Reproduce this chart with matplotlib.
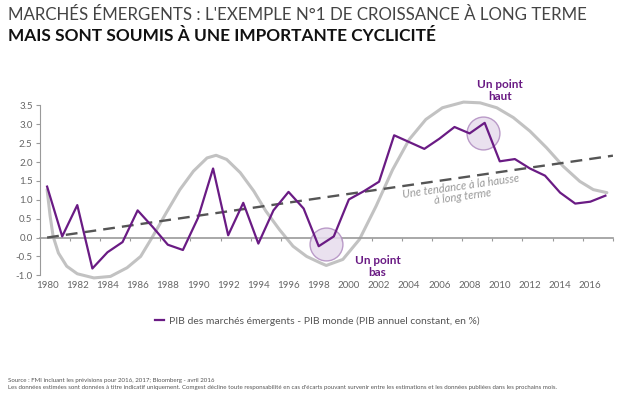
import matplotlib.pyplot as plt
import numpy as np

# PIB des marchés émergents - PIB monde, en %
years = list(range(1980, 2018))
spread = [1.35, 0.03, 0.86, -0.82, -0.39, -0.12, 0.72, 0.28, -0.19, -0.33,
          0.52, 1.83, 0.06, 0.92, -0.16, 0.72, 1.21, 0.77, -0.23, 0.03,
          1.01, 1.23, 1.48, 2.71, 2.53, 2.35, 2.62, 2.93, 2.76, 3.04,
          2.02, 2.08, 1.83, 1.64, 1.19, 0.90, 0.95, 1.11]

# cycle (gray curve)
cycle_x = [1980.0, 1980.2, 1980.4, 1980.75, 1981.3, 1982.0, 1983.1, 1984.2, 1985.3, 1986.2,
           1987.0, 1987.9, 1988.8, 1989.7, 1990.6, 1991.2, 1991.9, 1992.8, 1993.7, 1994.5,
           1995.4, 1996.3, 1997.2, 1998.1, 1998.5, 1999.6, 2000.7, 2001.8, 2002.9, 2004.0,
           2005.1, 2006.2, 2007.6, 2008.7, 2009.8, 2010.9, 2012.0, 2013.1, 2014.2, 2015.3,
           2016.2, 2017.1]
cycle_y = [1.27, 0.57, 0.03, -0.41, -0.76, -0.96, -1.07, -1.03, -0.80, -0.50,
           0.03, 0.66, 1.27, 1.76, 2.11, 2.18, 2.07, 1.72, 1.23, 0.70,
           0.21, -0.23, -0.50, -0.67, -0.74, -0.58, -0.05, 0.83, 1.80, 2.60,
           3.13, 3.44, 3.59, 3.57, 3.44, 3.18, 2.82, 2.38, 1.89, 1.49,
           1.27, 1.19]

# long term trend
trend_x = [1980, 2017.5]
trend_y = [0.0, 2.17]

# highlighted points
low_pt = (1998.5, -0.16)
high_pt = (2008.9, 2.76)

purple = '#6a1b84'
grey_txt = '#666666'
plt.rcParams['font.family'] = ['Lato', 'DejaVu Sans']

fig = plt.figure(figsize=(6.28, 3.97), dpi=100)
ax = fig.add_axes([0.063, 0.3066, 0.913, 0.4277])

ax.plot(cycle_x, cycle_y, color='#c2c2c2', lw=2.2, solid_capstyle='round', zorder=2,
        clip_on=False)
ax.plot(trend_x, trend_y, color='#555555', lw=1.7, dashes=(5, 3), zorder=3)
ax.scatter([low_pt[0], high_pt[0]], [low_pt[1], high_pt[1]], s=560,
           facecolor='#e7dced', edgecolor='#b08cc0', lw=1, alpha=0.85, zorder=4)
ax.plot(years, spread, color=purple, lw=1.6, zorder=5,
        label='PIB des marchés émergents - PIB monde (PIB annuel constant, en %)')

ax.set_xlim(1979.5, 2017.5)
ax.set_ylim(-1.0, 3.5)

# axes styling
for s in ['top', 'right']:
    ax.spines[s].set_visible(False)
ax.spines['left'].set_color('#9a9a9a')
ax.spines['bottom'].set_color('#9a9a9a')
ax.spines['bottom'].set_position(('data', 0))
ax.spines['bottom'].set_linewidth(1.2)
ax.set_yticks(np.arange(-1.0, 3.51, 0.5))
ax.set_yticklabels(['%.1f' % v for v in np.arange(-1.0, 3.51, 0.5)])
ax.tick_params(axis='y', colors='#9a9a9a', labelcolor=grey_txt, labelsize=7, length=3, pad=2)
ax.set_xticks(np.arange(1981.5, 2018, 2))
ax.tick_params(axis='x', colors='#9a9a9a', labelbottom=False, length=2.5)

sec = ax.secondary_xaxis(0)
sec.set_xticks(range(1980, 2017, 2))
sec.tick_params(length=0, labelsize=7, labelcolor=grey_txt, pad=4)
sec.spines['bottom'].set_visible(False)

# annotations
ax.text(2001.9, -0.77, 'Un point\nbas', color=purple, fontsize=8.5, fontweight='bold',
        ha='center', va='center', linespacing=1.1, clip_on=False)
ax.text(2010.0, 3.9, 'Un point\nhaut', color=purple, fontsize=8.5, fontweight='bold',
        ha='center', va='center', linespacing=1.1, clip_on=False)
ax.text(2007.5, 1.22, 'Une tendance à la hausse\nà long terme', color='#9a9a9a',
        fontsize=8, fontstyle='italic', ha='center', va='center',
        rotation=8, linespacing=1.0, zorder=6)

leg = ax.legend(loc='center', bbox_to_anchor=(0.505, 0.191), bbox_transform=fig.transFigure,
                frameon=False, fontsize=7.5, handlelength=0.9, handletextpad=0.4)
for t in leg.get_texts():
    t.set_color('#555555')

# titles
fig.text(0.013, 0.963, "MARCHÉS ÉMERGENTS : L'EXEMPLE N°1 DE CROISSANCE À LONG TERME",
         fontsize=12.2, color='#444444', va='center')
fig.text(0.013, 0.91, 'MAIS SONT SOUMIS À UNE IMPORTANTE CYCLICITÉ',
         fontsize=12.4, fontweight='bold', color='#111111', va='center')

# footer
fig.text(0.013, 0.042, 'Source : FMI incluant les prévisions pour 2016, 2017; Bloomberg - avril 2016',
         fontsize=4.4, color='#555555', va='center')
fig.text(0.013, 0.025, "Les données estimées sont données à titre indicatif uniquement. Comgest décline toute "
         "responsabilité en cas d'écarts pouvant survenir entre les estimations et les données publiées "
         "dans les prochains mois.", fontsize=4.4, color='#555555', va='center')

fig.savefig('out.png', dpi=100)
